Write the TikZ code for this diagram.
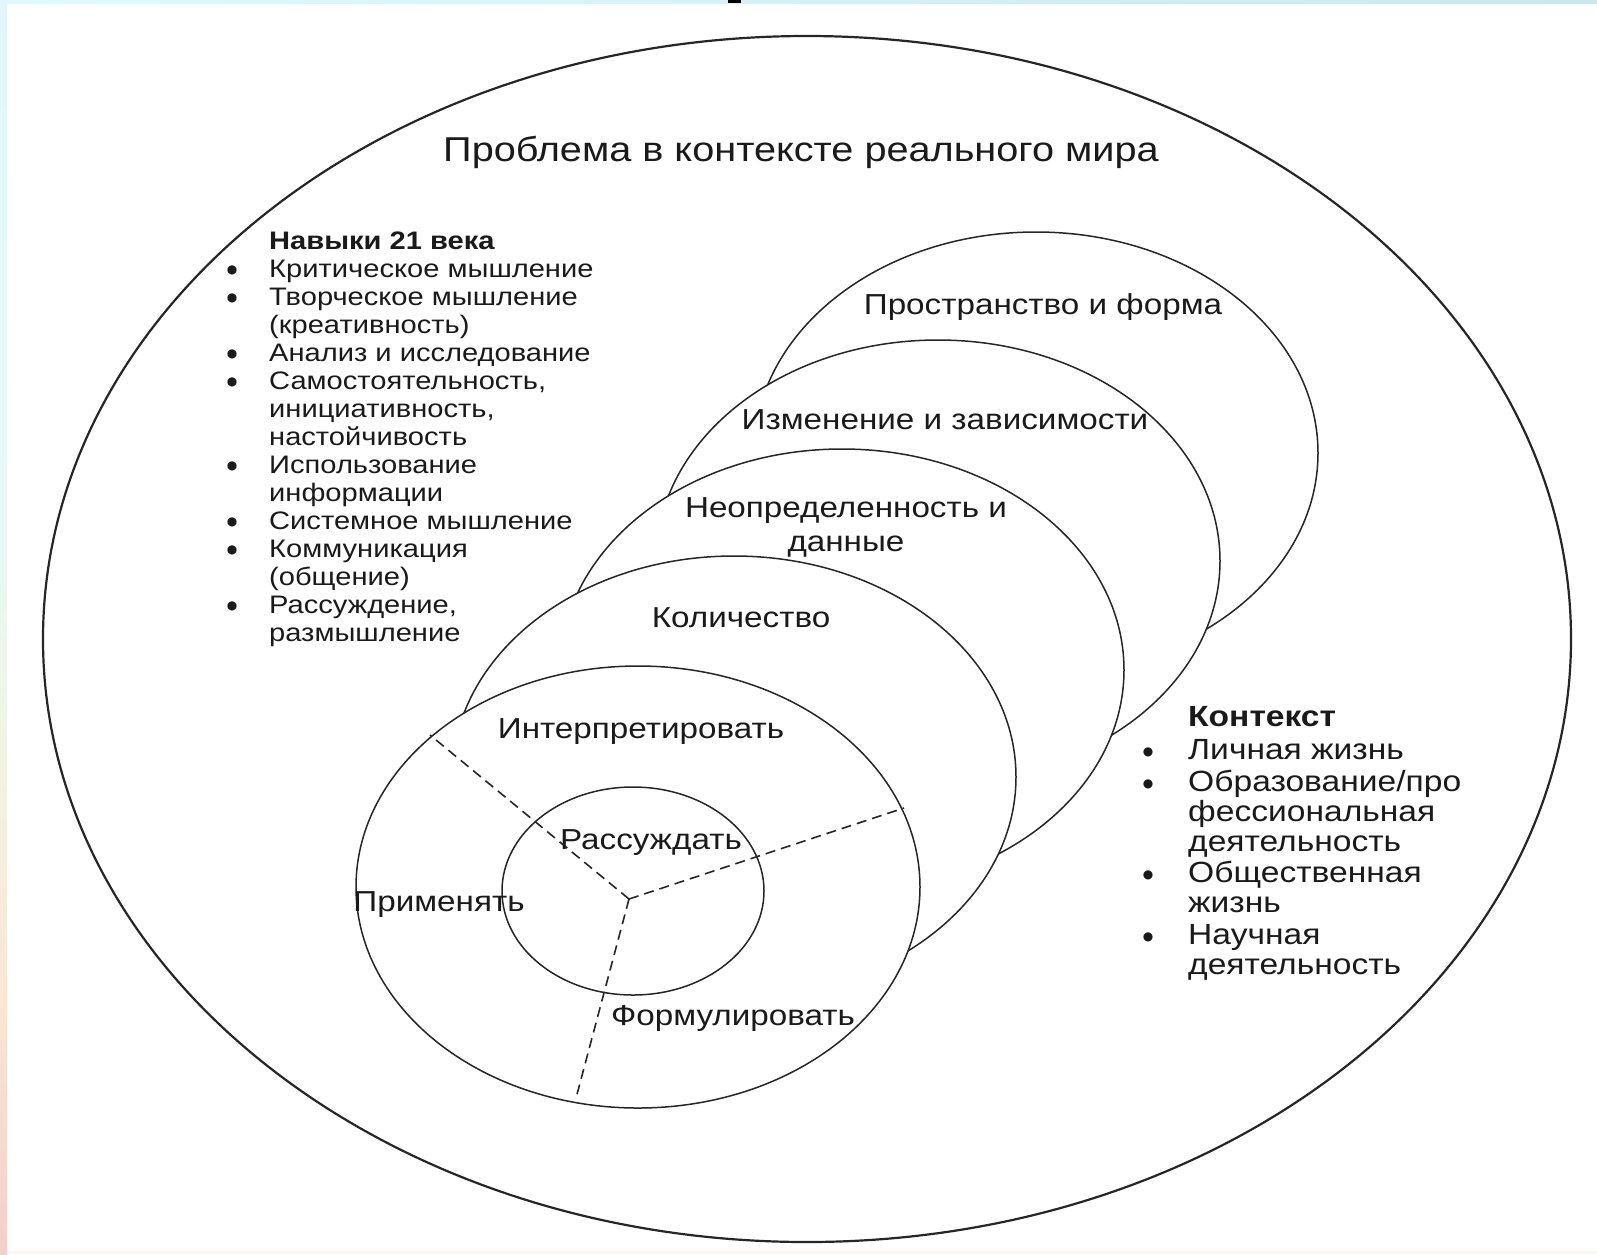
\documentclass[tikz,border=0pt]{standalone}
\usepackage{fontspec}
\setmainfont{Liberation Sans}[FakeStretch=1.15]
\newfontfamily\bulfont{DejaVu Sans}
\usetikzlibrary{shapes.geometric}
\definecolor{ink}{HTML}{1A1A1A}
\definecolor{linec}{HTML}{262626}
\definecolor{bandA}{HTML}{E2F8FC}
\definecolor{bandB}{HTML}{C9E9EF}
\definecolor{lbA}{HTML}{E0F8FC}
\definecolor{lbB}{HTML}{E8F8F4}
\definecolor{lbC}{HTML}{F2F4E2}
\definecolor{lbD}{HTML}{FAE6D2}
\definecolor{lbE}{HTML}{F4CFCA}
\definecolor{botband}{HTML}{FCF6F0}
\begin{document}
\begin{tikzpicture}[x=1pt,y=-1pt,
  mathc/.style={draw=linec, line width=1.5pt, fill=white, ellipse, inner sep=0pt,
     minimum width=564pt, minimum height=442pt},
  lbl/.style={text=ink, font=\fontsize{28.9}{34}\selectfont, inner sep=0pt},
  skill/.style={text=ink, font=\fontsize{25.3}{28}\selectfont, anchor=west, inner sep=0pt,
     text height=0.72em, text depth=0.2em},
  ctx/.style={text=ink, font=\fontsize{29.2}{30}\selectfont, anchor=west, inner sep=0pt,
     text height=0.72em, text depth=0.2em},
  bul/.style={text=ink, inner sep=0pt, font=\bulfont\fontsize{12}{12}\selectfont, text height=0.5em, text depth=0em},
  sep/.style={draw=linec, line width=1.6pt, dash pattern=on 10pt off 6pt}
]
\useasboundingbox (0,0) rectangle (1597,1254);
% background
\fill[white] (0,0) rectangle (1597,1254);
\shade[left color=bandA, right color=bandB] (0,0) rectangle (1597,3);
\shade[top color=lbA, bottom color=lbB] (0,0) rectangle (7,560);
\shade[top color=lbB, bottom color=lbC] (0,560) rectangle (7,760);
\shade[top color=lbC, bottom color=lbD] (0,760) rectangle (7,1000);
\shade[top color=lbD, bottom color=lbE] (0,1000) rectangle (7,1254);
\fill[botband] (7,1251) rectangle (1597,1254);
\fill[black] (728,0) rectangle (741,3);

% outer world ellipse
\node[draw=linec, line width=2.2pt, ellipse, inner sep=0pt, minimum width=1528pt, minimum height=1206pt] (world) at (807,639) {};
\node[text=ink, font=\fontsize{34.5}{40}\selectfont, inner sep=0pt] (title) at (801,152) {Проблема в контексте реального мира};

% content circles
\node[mathc] (c1) at (1036,453) {};
\node[mathc] (c2) at (938,561) {};
\node[mathc] (c3) at (842,670) {};
\node[mathc] (c4) at (734,777) {};
\node[mathc] (c5) at (638,887) {};
\node[draw=linec, line width=1.5pt, fill=white, ellipse, inner sep=0pt, minimum width=262pt, minimum height=208pt] (core) at (633,891) {};

% dashed separators
\coordinate (j) at (629,899);
\coordinate (jul) at (430,735);
\coordinate (jr) at (904,808);
\coordinate (jb) at (576,1098);
\draw[sep] (j) -- (jul);
\draw[sep] (j) -- (jr);
\draw[sep] (j) -- (jb);

% circle labels
\node[lbl] (l1) at (1043,307) {Пространство и форма};
\node[lbl] (l2) at (945,420) {Изменение и зависимости};
\node[lbl, align=center] (l3) at (846,527) {Неопределенность и\\данные};
\node[lbl] (l4) at (741,618) {Количество};
\node[lbl] (l5) at (641,732) {Интерпретировать};
\node[lbl] (l6) at (651,843) {Рассуждать};
\node[lbl] (l7) at (439,905) {Применять};
\node[lbl] (l8) at (733,1018) {Формулировать};

% 21st century skills
\node[skill, font=\fontsize{25.3}{28}\bfseries] (sh) at (269,247) {Навыки 21 века};
\node[skill] (s1) at (269,275) {Критическое мышление};
\node[skill] (s2) at (269,303) {Творческое мышление};
\node[skill] (s2b) at (269,331) {(креативность)};
\node[skill] (s3) at (269,359) {Анализ и исследование};
\node[skill] (s4) at (269,387) {Самостоятельность,};
\node[skill] (s4b) at (269,415) {инициативность,};
\node[skill] (s4c) at (269,443) {настойчивость};
\node[skill] (s5) at (269,471) {Использование};
\node[skill] (s5b) at (269,499) {информации};
\node[skill] (s6) at (269,527) {Системное мышление};
\node[skill] (s7) at (269,555) {Коммуникация};
\node[skill] (s7b) at (269,583) {(общение)};
\node[skill] (s8) at (269,611) {Рассуждение,};
\node[skill] (s8b) at (269,639) {размышление};
\foreach \yy/\nm in {275/1,303/2,359/3,387/4,471/5,527/6,555/7,611/8}
  \node[bul] (sb\nm) at (232,\yy-4) {●};

% context
\node[ctx, font=\fontsize{29.2}{30}\bfseries] (ch) at (1188,724) {Контекст};
\node[ctx] (k1) at (1188,757) {Личная жизнь};
\node[ctx] (k2) at (1188,789) {Образование/про};
\node[ctx] (k2b) at (1188,819) {фессиональная};
\node[ctx] (k2c) at (1188,849) {деятельность};
\node[ctx] (k3) at (1188,880) {Общественная};
\node[ctx] (k3b) at (1188,910) {жизнь};
\node[ctx] (k4) at (1188,942) {Научная};
\node[ctx] (k4b) at (1188,972) {деятельность};
\foreach \yy/\nm in {757/1,789/2,880/3,942/4}
  \node[bul] (kb\nm) at (1148,\yy-4) {●};
\end{tikzpicture}
\end{document}
